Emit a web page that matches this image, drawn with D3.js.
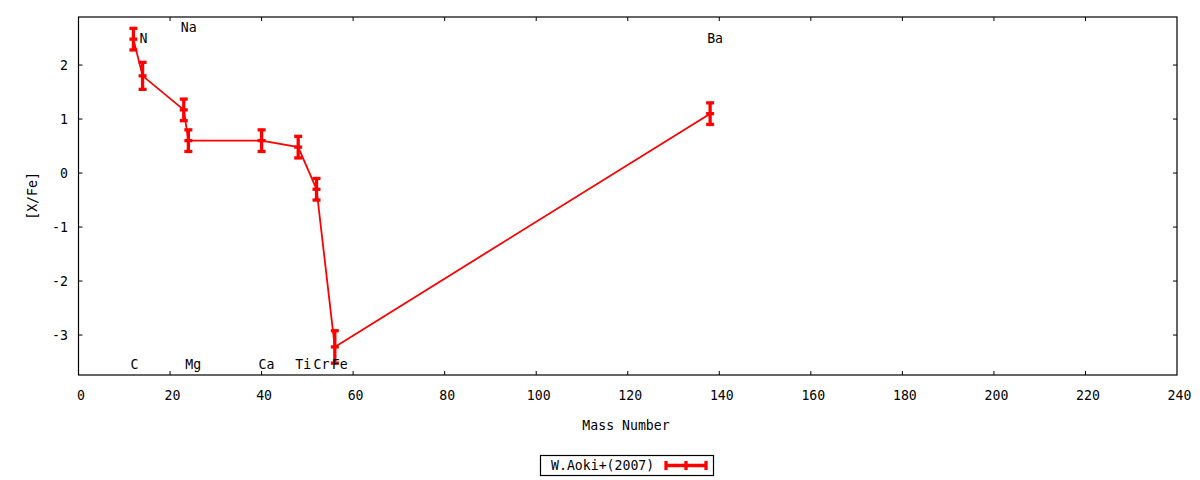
<!DOCTYPE html>
<html><head><meta charset="utf-8">
<script src="https://cdn.jsdelivr.net/npm/d3@7"></script>
<style>body{margin:0;background:#fff}text{font-family:"DejaVu Sans Mono",monospace;font-size:13.2px;fill:#000}</style>
</head><body><svg id="c" width="1200" height="480"></svg>
<script>
const elements = ["C","N","Na","Mg","Ca","Ti","Cr","Fe","Ba"];
const massNumbers = [12,14,23,24,40,48,52,56,138];
const xFe = [2.48,1.8,1.17,0.6,0.6,0.48,-0.3,-3.22,1.1];
const errors = [0.2,0.25,0.2,0.2,0.2,0.2,0.2,0.3,0.2];
const labelY = [-3.55,2.5,2.7,-3.55,-3.55,-3.55,-3.55,-3.55,2.5];
const xTicks = [0,20,40,60,80,100,120,140,160,180,200,220,240];
const yTicks = [-3,-2,-1,0,1,2];
const seriesName = "W.Aoki+(2007)";

const svg = d3.select("#c");
const L=78.5,R=1177,T=17,B=375;
const x = d3.scaleLinear().domain([0,240]).range([L,R]);
const y = d3.scaleLinear().domain([-3.74,2.89]).range([B,T]);
const red="#ff0000";

svg.append("rect").attr("x",L).attr("y",T).attr("width",R-L).attr("height",B-T)
  .attr("fill","none").attr("stroke","#000").attr("stroke-width",1.2);

const tl=4;
const gx=svg.append("g");
xTicks.forEach(t=>{
  const px=x(t);
  if(t>0&&t<240){
    gx.append("line").attr("x1",px).attr("x2",px).attr("y1",B).attr("y2",B-tl).attr("stroke","#000");
    gx.append("line").attr("x1",px).attr("x2",px).attr("y1",T).attr("y2",T+tl).attr("stroke","#000");
  }
  gx.append("text").attr("x",px+2.5).attr("y",395).attr("text-anchor","middle").attr("dominant-baseline","central").text(t);
});
yTicks.forEach(t=>{
  const py=y(t);
  gx.append("line").attr("x1",L).attr("x2",L+tl).attr("y1",py).attr("y2",py).attr("stroke","#000");
  gx.append("line").attr("x1",R).attr("x2",R-tl).attr("y1",py).attr("y2",py).attr("stroke","#000");
  gx.append("text").attr("x",68).attr("y",py).attr("text-anchor","end").attr("dominant-baseline","central").text(t);
});

svg.append("text").attr("x",626).attr("y",425).attr("text-anchor","middle").attr("dominant-baseline","central").text("Mass Number");
svg.append("text").attr("transform","translate(32,196) rotate(-90)").attr("text-anchor","middle").attr("dominant-baseline","central").text("[X/Fe]");

const pts = massNumbers.map((m,i)=>[m,xFe[i],errors[i]]);
svg.append("path").datum(pts).attr("fill","none").attr("stroke",red).attr("stroke-width",1.8)
  .attr("d",d3.line().x(d=>x(d[0])).y(d=>y(d[1])));

const cw=4;
const eb=svg.append("g").attr("stroke",red).attr("stroke-width",3.3);
pts.forEach(d=>{
  const px=x(d[0]);
  eb.append("line").attr("x1",px).attr("x2",px).attr("y1",y(d[1]-d[2])).attr("y2",y(d[1]+d[2]));
  [d[1]-d[2],d[1]+d[2],d[1]].forEach(v=>{
    eb.append("line").attr("x1",px-cw).attr("x2",px+cw).attr("y1",y(v)).attr("y2",y(v));
  });
});

elements.forEach((e,i)=>{
  svg.append("text").attr("x",x(massNumbers[i])-3).attr("y",y(labelY[i])).attr("dominant-baseline","central").text(e);
});

svg.append("rect").attr("x",540.5).attr("y",455.5).attr("width",173).attr("height",20).attr("fill","none").attr("stroke","#000").attr("stroke-width",1.2);
svg.append("text").attr("x",551).attr("y",465.5).attr("dominant-baseline","central").text(seriesName);
const lg=svg.append("g").attr("stroke",red).attr("stroke-width",3.3);
lg.append("line").attr("x1",665).attr("x2",706).attr("y1",465.5).attr("y2",465.5);
[666,686,706].forEach(px=>lg.append("line").attr("x1",px).attr("x2",px).attr("y1",461).attr("y2",470));
</script></body></html>
